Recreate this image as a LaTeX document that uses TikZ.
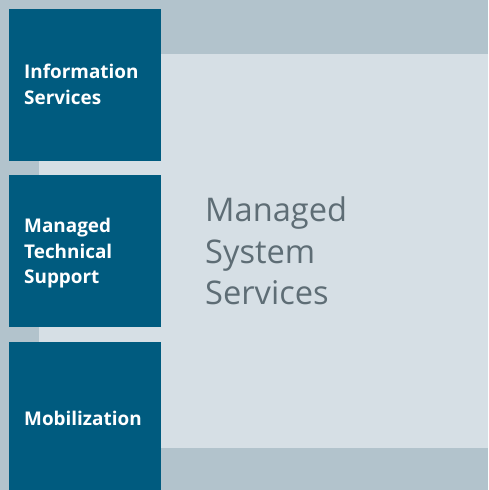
\documentclass[tikz,border=0pt]{standalone}
\usepackage{fontspec}
\setmainfont{Open Sans}
\definecolor{bgc}{HTML}{B2C3CC}
\definecolor{lightc}{HTML}{D6DFE5}
\definecolor{darkc}{HTML}{005B7F}
\definecolor{greyt}{HTML}{5E6D75}
\begin{document}
\begin{tikzpicture}[x=1pt,y=-1pt,
  darkbox/.style={fill=darkc,draw=none},
  boxtext/.style={text=white,font=\fontsize{18.9}{25.5}\selectfont\bfseries,align=left,inner sep=0pt,anchor=base west},
  bigtext/.style={text=greyt,font=\fontsize{32.6}{41.5}\selectfont,align=left,inner sep=0pt,anchor=base west}]
\fill[bgc] (0,0) rectangle (488,490);
\useasboundingbox (0,0) rectangle (488,490);
\fill[lightc] (39,54) rectangle (488,448);
\fill[darkbox] (9,9) rectangle (161,161) coordinate (b1);
\fill[darkbox] (9,175) rectangle (161,327) coordinate (b2);
\fill[darkbox] (9,342) rectangle (161,490) coordinate (b3);
\node[boxtext] (t1) at (24,104) {Information\\Services};
\node[boxtext] (t2) at (24,283.5) {Managed\\Technical\\Support};
\node[boxtext] (t3) at (24,425) {Mobilization};
\node[bigtext] (t4) at (205,304.5) {Managed\\System\\Services};
\end{tikzpicture}
\end{document}
